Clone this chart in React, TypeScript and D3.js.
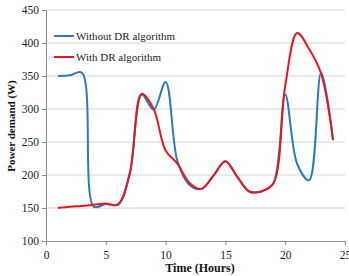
import { useEffect, useRef } from "react";
import * as d3 from "d3";

// hourly values
const hours = [1, 2, 3, 4, 5, 6, 7, 8, 9, 10, 11, 12, 13, 14, 15, 16, 17, 18, 19, 20, 21, 22, 23, 24];
const withoutDR = [350, 351, 355, 152, 156, 155, 202, 322, 299, 341, 220, 185, 179, 199, 221, 197, 175, 175, 187, 322, 217, 192, 355, 253];
const withDR = [150, 152, 153, 155, 157, 155, 202, 323, 300, 237, 217, 188, 179, 199, 221, 197, 175, 175, 187, 335, 415, 391, 354, 253];

const xTicks = [0, 5, 10, 15, 20, 25];
const yTicks = [100, 150, 200, 250, 300, 350, 400, 450];

const seriesList = [
    { name: "Without DR algorithm", values: withoutDR, color: "#2b79c2" },
    { name: "With DR algorithm", values: withDR, color: "#e3191f" },
];

const FONT = "Liberation Serif";

const App: React.FC = () => {
    const svgRef = useRef<SVGSVGElement | null>(null);

    useEffect(() => {
        if (!svgRef.current) return;
        const width = 349;
        const height = 276;
        const margin = { top: 10, right: 4, bottom: 35, left: 46 };

        const svg = d3.select(svgRef.current);
        svg.selectAll("*").remove();
        svg.attr("width", width).attr("height", height);

        const x = d3.scaleLinear().domain([0, 25]).range([margin.left, width - margin.right]);
        const y = d3.scaleLinear().domain([100, 450]).range([height - margin.bottom, margin.top]);

        // gridlines
        svg.append("g")
            .selectAll("line")
            .data(yTicks.slice(1))
            .enter()
            .append("line")
            .attr("x1", x(0))
            .attr("x2", x(25))
            .attr("y1", d => y(d))
            .attr("y2", d => y(d))
            .style("stroke", "#d4d4d4")
            .style("stroke-width", 1);

        // y axis
        const yAxis = svg.append("g")
            .attr("transform", `translate(${x(0)},0)`)
            .call(d3.axisLeft(y).tickValues(yTicks).tickSize(4).tickPadding(3));
        yAxis.attr("font-family", FONT).attr("font-size", 11.5);
        yAxis.select(".domain").style("stroke", "#8c8c8c");
        yAxis.selectAll("line").style("stroke", "#8c8c8c");
        yAxis.selectAll("text").style("fill", "#222");

        // x axis
        const xAxis = svg.append("g")
            .attr("transform", `translate(0,${y(100)})`)
            .call(d3.axisBottom(x).tickValues(xTicks).tickSize(4).tickPadding(6));
        xAxis.attr("font-family", FONT).attr("font-size", 11.5);
        xAxis.select(".domain").style("stroke", "#8c8c8c");
        xAxis.selectAll("line").style("stroke", "#8c8c8c");
        xAxis.selectAll("text").style("fill", "#222");

        // lines
        const line = d3.line<number>()
            .x((_, i) => x(hours[i]))
            .y(d => y(d))
            .curve(d3.curveCatmullRom.alpha(0.5));

        seriesList.forEach(s => {
            svg.append("path")
                .datum(s.values)
                .attr("d", line)
                .style("fill", "none")
                .style("stroke", s.color)
                .style("stroke-width", 2);
        });

        // legend
        const legend = svg.append("g").attr("transform", "translate(54,36)");
        seriesList.forEach((s, i) => {
            const g = legend.append("g").attr("transform", `translate(0,${i * 21})`);
            g.append("line")
                .attr("x1", 0).attr("x2", 20)
                .attr("y1", 0).attr("y2", 0)
                .style("stroke", s.color)
                .style("stroke-width", 2);
            g.append("text")
                .attr("x", 22)
                .attr("y", 3.5)
                .attr("font-family", FONT)
                .attr("font-size", 11)
                .attr("fill", "#222")
                .text(s.name);
        });

        // axis titles
        svg.append("text")
            .attr("transform", "translate(15,126) rotate(-90)")
            .attr("text-anchor", "middle")
            .attr("font-family", FONT)
            .attr("font-weight", "bold")
            .attr("font-size", 11)
            .attr("fill", "#111")
            .text("Power demand (W)");

        svg.append("text")
            .attr("x", 200)
            .attr("y", 272)
            .attr("text-anchor", "middle")
            .attr("font-family", FONT)
            .attr("font-weight", "bold")
            .attr("font-size", 12)
            .attr("fill", "#111")
            .text("Time (Hours)");
    }, []);

    return (
        <div style={{ position: "absolute", left: 0, top: 0, background: "#fff" }}>
            <svg ref={svgRef} style={{ display: "block" }}></svg>
        </div>
    );
};

export default App;
